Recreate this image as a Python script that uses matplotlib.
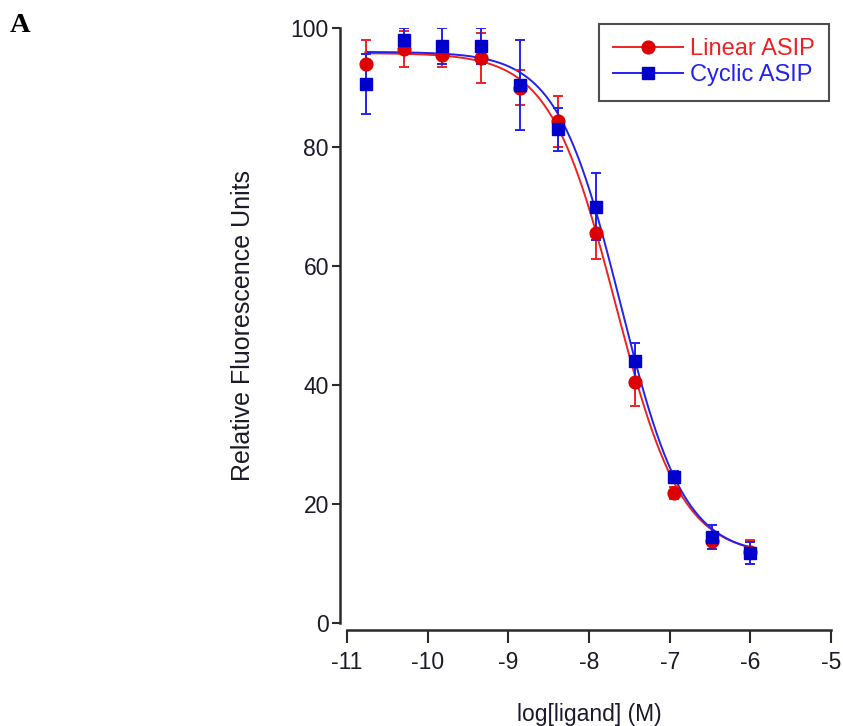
import numpy as np
import matplotlib
matplotlib.use("Agg")
import matplotlib.pyplot as plt

# Data
log_conc = [-10.77, -10.29, -9.82, -9.34, -8.86, -8.39, -7.91, -7.43, -6.95, -6.48, -6.00]
linear_mean = [94.0, 96.5, 95.5, 95.0, 90.0, 84.3, 65.6, 40.5, 21.8, 13.8, 12.0]
linear_err = [4.0, 3.0, 2.0, 4.2, 3.0, 4.3, 4.4, 4.0, 1.0, 1.3, 2.0]
cyclic_mean = [90.6, 98.0, 97.0, 97.0, 90.4, 83.0, 70.0, 44.0, 24.5, 14.5, 11.8]
cyclic_err = [5.0, 2.0, 3.0, 3.0, 7.5, 3.6, 5.7, 3.0, 1.0, 2.0, 1.8]

# Fitted sigmoidal dose-response parameters: (bottom, top, logIC50, hill)
linear_fit = (11.3, 95.8, -7.67, 1.06)
cyclic_fit = (11.3, 96.0, -7.61, 1.10)

labels = ["Linear ASIP", "Cyclic ASIP"]
xticks = [-11, -10, -9, -8, -7, -6, -5]
yticks = [0, 20, 40, 60, 80, 100]

plt.rcParams['font.family'] = ['Liberation Sans', 'DejaVu Sans']

fig = plt.figure(figsize=(8.43, 7.26), dpi=100)
ax = fig.add_axes([347/843, 1-623/726, 484/843, 595/726])

def curve(x, p):
    b, t, c, h = p
    return b + (t - b) / (1 + 10 ** ((x - c) * h))

xs = np.linspace(min(log_conc), max(log_conc), 300)
red_m, red_l = '#dd0000', '#ee2222'
blue_m, blue_l = '#0000cc', '#2222ee'

for mean, err, fit, mc, lc, mk, lab in [
        (linear_mean, linear_err, linear_fit, red_m, red_l, 'o', labels[0]),
        (cyclic_mean, cyclic_err, cyclic_fit, blue_m, blue_l, 's', labels[1])]:
    ax.plot(xs, curve(xs, fit), color=lc, lw=1.4, zorder=2)
    ax.errorbar(log_conc, mean, yerr=err, fmt='none', ecolor=lc, elinewidth=1.4,
                capsize=3.8, capthick=1.4, zorder=3)
    ax.plot(log_conc, mean, ls='none', marker=mk, ms=9.2, color=mc, zorder=4)
    ax.plot([], [], color=lc, lw=1.4, marker=mk, ms=9.2, mfc=mc, mec=mc, label=lab)

ax.set_xlim(-11, -5)
ax.set_ylim(0, 100)
ax.set_xticks(xticks)
ax.set_yticks(yticks)
ax.set_xticklabels([str(v) for v in xticks])
ax.set_yticklabels([str(v) for v in yticks])

tc = '#1a1a2a'
for s in ['top', 'right']:
    ax.spines[s].set_visible(False)
for s in ['left', 'bottom']:
    ax.spines[s].set_position(('outward', 5))
    ax.spines[s].set_linewidth(1.8)
    ax.spines[s].set_color('#2a2a2a')
ax.tick_params(axis='y', length=6, width=1.5, labelsize=16.5, pad=2, color='#2a2a2a', labelcolor=tc)
ax.tick_params(axis='x', length=9, width=1.5, labelsize=16.5, pad=6, color='#2a2a2a', labelcolor=tc)

ax.set_ylabel('Relative Fluorescence Units', fontsize=18, labelpad=26, color=tc)
ax.set_xlabel('log[ligand] (M)', fontsize=16.5, labelpad=21, color=tc)

leg = ax.legend(loc='upper right', bbox_to_anchor=(829/843, 1-24/726),
                bbox_transform=fig.transFigure, fontsize=17,
                handlelength=2.95, frameon=True, fancybox=False, borderpad=0.6,
                labelspacing=0.18, handletextpad=0.3, borderaxespad=0.0)
leg.get_frame().set_edgecolor('#222222')
leg.get_frame().set_linewidth(1.5)
for t, c in zip(leg.get_texts(), [red_l, blue_l]):
    t.set_color(c)

fig.text(10/843, 1-25/726, 'A', fontsize=20.5, fontweight='bold',
         family=['Liberation Serif', 'DejaVu Serif'], va='center', ha='left')

fig.savefig('out.png', dpi=100)
